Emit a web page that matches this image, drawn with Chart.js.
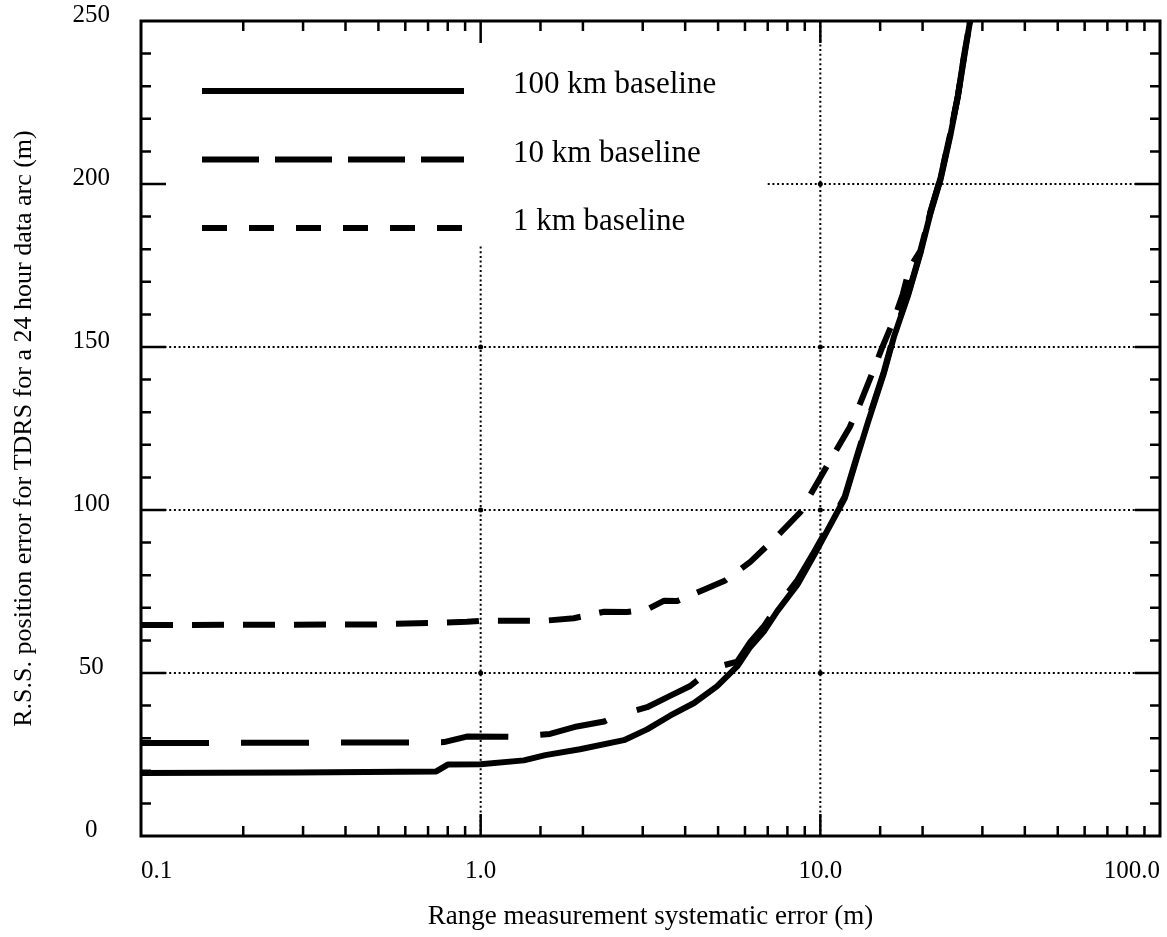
<!DOCTYPE html>
<html lang="en">
<head>
    <meta charset="UTF-8">
    <title>TDRS position error</title>
    <script src="https://cdn.jsdelivr.net/npm/chart.js@4.4.1/dist/chart.umd.min.js"></script>
    <style>
        body{
            margin: 0;
            background-color: #ffffff;
        }
    </style>
</head>
<body>
    <canvas id="miCanvas" width="1167" height="937"></canvas>
    <script>
        // values (x = range error in m, y = position error in m)
        const err100x = [0.1, 0.286, 0.74, 0.80, 1.0, 1.34, 1.55, 1.96, 2.64, 3.09, 3.61, 4.25, 4.96, 5.69, 6.22, 6.84, 7.47, 8.56, 9.6, 10.7, 11.8, 12.8, 13.8, 15.4, 16.5, 18.1, 19.7, 21.1, 22.6, 24.2, 25.4, 26.6, 27.8];
        const pos100 = [19.3, 19.5, 19.8, 21.9, 22.0, 23.2, 24.8, 26.6, 29.4, 32.7, 36.9, 40.8, 45.9, 52.0, 58.0, 62.9, 69.0, 77.1, 86.3, 95.4, 103.6, 115.8, 126.8, 142.1, 153.4, 165.6, 178.7, 191.0, 201.4, 215.4, 226.7, 239.9, 252];

        const err10x = [0.1, 0.62, 0.78, 0.91, 1.26, 1.60, 1.92, 2.31, 2.47, 3.09, 3.61, 4.14, 4.80, 5.69, 6.22, 6.84, 7.47, 8.56, 9.6, 10.7, 11.8, 12.8, 13.8, 15.4, 16.5, 18.1, 19.7, 21.1, 22.6, 24.2, 25.4, 26.6, 27.8];
        const pos10 = [28.5, 28.7, 28.8, 30.5, 30.4, 31.3, 33.6, 35.1, 36.6, 39.5, 43.0, 46.0, 51.4, 53.5, 59.5, 64.5, 70.5, 78.5, 87.3, 96.0, 104.2, 116.4, 127.4, 142.6, 154.0, 166.0, 179.0, 191.5, 202.0, 216.0, 227.0, 240.5, 252];

        const err1x = [0.1, 0.49, 0.91, 1.0, 1.53, 1.88, 2.31, 2.70, 3.09, 3.47, 3.79, 4.43, 5.25, 6.22, 7.47, 8.73, 9.79, 10.8, 12.2, 13.1, 14.2, 15.2, 16.5, 17.5, 18.3, 19.7, 21.1, 22.6, 24.2, 25.4, 26.6, 27.8];
        const pos1 = [64.7, 64.9, 65.7, 66.0, 66.0, 66.8, 68.8, 68.7, 69.5, 72.2, 72.1, 75.1, 78.4, 84.1, 92.0, 99.3, 108.3, 116.0, 125.4, 132.7, 141.8, 149.8, 158.6, 166.3, 174.2, 179.5, 191.5, 202.0, 216.0, 227.0, 240.5, 252];

        const seriesNames = ["100 km baseline", "10 km baseline", "1 km baseline"];
        const xTickValues = [0.1, 1, 10, 100];
        const xTickLabels = ["0.1", "1.0", "10.0", "100.0"];
        const yLabelStep = 50;

        const zip = (xs, ys) => xs.map((v, i) => ({x: v, y: ys[i]}));
        const isDecade = (v) => Math.abs(Math.log10(v) - Math.round(Math.log10(v))) < 1e-6;

        // dotted grid, only where the original draws it
        const dottedGrid = {
            id: 'dottedGrid',
            beforeDatasetsDraw(chart, args, opts) {
                const {ctx, scales: {x, y}} = chart;
                ctx.save();
                ctx.strokeStyle = '#000';
                ctx.lineWidth = 2;
                ctx.setLineDash([2, 2.7]);
                opts.horizontal.forEach(g => {
                    const py = y.getPixelForValue(g.at);
                    ctx.beginPath();
                    ctx.moveTo(x.getPixelForValue(g.from), py);
                    ctx.lineTo(x.getPixelForValue(g.to), py);
                    ctx.stroke();
                });
                opts.vertical.forEach(g => {
                    const px = x.getPixelForValue(g.at);
                    ctx.beginPath();
                    ctx.moveTo(px, y.getPixelForValue(g.from));
                    ctx.lineTo(px, y.getPixelForValue(g.to));
                    ctx.stroke();
                });
                ctx.setLineDash([]);
                ctx.fillStyle = '#000';
                opts.vertical.forEach(v => {
                    opts.horizontal.forEach(h => {
                        if (h.at < v.from || h.at > v.to || v.at < h.from || v.at > h.to) return;
                        ctx.beginPath();
                        ctx.arc(x.getPixelForValue(v.at), y.getPixelForValue(h.at), 2.5, 0, Math.PI * 2);
                        ctx.fill();
                    });
                });
                ctx.restore();
            }
        };

        // box frame with inward ticks on all four sides
        const frameTicks = {
            id: 'frameTicks',
            afterDatasetsDraw(chart, args, opts) {
                const {ctx, chartArea: a, scales: {x, y}} = chart;
                ctx.save();
                ctx.strokeStyle = '#000';
                ctx.lineWidth = 3;
                ctx.strokeRect(a.left, a.top, a.right - a.left, a.bottom - a.top);
                ctx.lineWidth = 2.5;
                ctx.beginPath();
                x.ticks.forEach(t => {
                    const px = x.getPixelForValue(t.value);
                    if (px <= a.left + 2 || px >= a.right - 2) return;
                    const len = isDecade(t.value) ? opts.xMajor : opts.xMinor;
                    ctx.moveTo(px, a.bottom);
                    ctx.lineTo(px, a.bottom - len);
                    ctx.moveTo(px, a.top);
                    ctx.lineTo(px, a.top + len);
                });
                y.ticks.forEach(t => {
                    const py = y.getPixelForValue(t.value);
                    if (py <= a.top + 2 || py >= a.bottom - 2) return;
                    const len = t.value % yLabelStep === 0 ? opts.yMajor : opts.yMinor;
                    ctx.moveTo(a.left, py);
                    ctx.lineTo(a.left + len, py);
                    ctx.moveTo(a.right, py);
                    ctx.lineTo(a.right - len, py);
                });
                ctx.stroke();
                ctx.restore();
            }
        };

        // legend drawn as line samples with the series labels
        const lineLegend = {
            id: 'lineLegend',
            afterDraw(chart, args, opts) {
                const {ctx} = chart;
                ctx.save();
                ctx.font = opts.font;
                ctx.fillStyle = '#000';
                ctx.textBaseline = 'middle';
                chart.data.datasets.forEach((ds, i) => {
                    const yy = opts.top + i * opts.rowGap;
                    ctx.strokeStyle = ds.borderColor;
                    ctx.lineWidth = ds.borderWidth;
                    ctx.setLineDash(opts.dashes[i]);
                    ctx.beginPath();
                    ctx.moveTo(opts.lineStart, yy);
                    ctx.lineTo(opts.lineEnd, yy);
                    ctx.stroke();
                    ctx.fillText(ds.label, opts.textX, yy - 6);
                });
                ctx.restore();
            }
        };

        Chart.defaults.font.family = '"Liberation Serif", "Times New Roman", serif';
        Chart.defaults.color = '#000';

        const lineStyle = {borderColor: '#000', borderWidth: 6, pointRadius: 0, tension: 0, borderJoinStyle: 'round', borderCapStyle: 'butt', fill: false};

        new Chart(document.getElementById("miCanvas").getContext("2d"), {
            type: 'line',
            data: {
                datasets: [
                    {...lineStyle, label: seriesNames[0], data: zip(err100x, pos100), borderDash: []},
                    {...lineStyle, label: seriesNames[1], data: zip(err10x, pos10), borderDash: [68, 32]},
                    {...lineStyle, label: seriesNames[2], data: zip(err1x, pos1), borderDash: [32, 19]}
                ]
            },
            options: {
                responsive: false,
                animation: false,
                layout: {padding: {top: 21, right: 7, left: 0, bottom: 0}},
                scales: {
                    x: {
                        type: 'logarithmic',
                        min: 0.1,
                        max: 100,
                        grid: {display: false, drawTicks: false, tickLength: 0},
                        border: {display: false},
                        ticks: {
                            autoSkip: false,
                            maxRotation: 0,
                            align: 'inner',
                            padding: 20,
                            font: {size: 25},
                            callback: (v) => {
                                const i = xTickValues.findIndex(t => Math.abs(t - v) < 1e-9);
                                return i >= 0 ? xTickLabels[i] : '';
                            }
                        },
                        title: {
                            display: true,
                            text: 'Range measurement systematic error (m)',
                            font: {size: 27},
                            padding: {top: 0, bottom: 4}
                        },
                        afterFit: (s) => { s.height = 101; s.paddingLeft = 0; s.paddingRight = 0; }
                    },
                    y: {
                        min: 0,
                        max: 250,
                        grid: {display: false, drawTicks: false, tickLength: 0},
                        border: {display: false},
                        ticks: {
                            stepSize: 10,
                            autoSkip: false,
                            crossAlign: 'center',
                            padding: 31,
                            labelOffset: -6,
                            font: {size: 25},
                            callback: (v) => v % yLabelStep === 0 ? String(v) : ''
                        },
                        title: {
                            display: true,
                            text: 'R.S.S. position error for TDRS for a 24 hour data arc (m)',
                            font: {size: 26},
                            padding: {top: 9, bottom: 0}
                        },
                        afterFit: (s) => { s.width = 141; s.paddingTop = 0; s.paddingBottom = 0; }
                    }
                },
                plugins: {
                    legend: {display: false},
                    tooltip: {enabled: false},
                    dottedGrid: {
                        horizontal: [
                            {at: 50, from: 0.1, to: 100},
                            {at: 100, from: 0.1, to: 100},
                            {at: 150, from: 0.1, to: 100},
                            {at: 200, from: 7, to: 100}
                        ],
                        vertical: [
                            {at: 1, from: 0, to: 181},
                            {at: 10, from: 0, to: 250}
                        ]
                    },
                    frameTicks: {xMajor: 22, xMinor: 10, yMajor: 25, yMinor: 10},
                    lineLegend: {
                        font: '31px "Liberation Serif", serif',
                        top: 91,
                        rowGap: 68.5,
                        lineStart: 202,
                        lineEnd: 464,
                        textX: 513,
                        dashes: [[], [57, 16], [25, 22]]
                    }
                }
            },
            plugins: [dottedGrid, frameTicks, lineLegend]
        });
    </script>
</body>
</html>
